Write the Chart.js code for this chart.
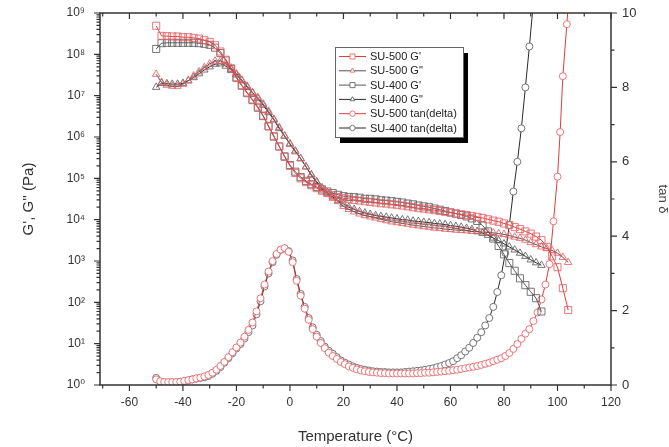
<!DOCTYPE html>
<html><head><meta charset="utf-8">
<script src="https://cdn.jsdelivr.net/npm/chart.js@4"></script>
<style>html,body{margin:0;padding:0;background:#fff}</style>
</head><body>
<canvas id="c" width="669" height="447"></canvas>
<script>
// ---------- data ----------
const tempG500 = [-50,-48,-46,-44,-42,-40,-38,-36,-34,-32,-30,-28,-26,-24,-22,-20,-18,-16,-14,-12,-10,-8,-6,-4,-2,0,2,4,6,8,10,12,14,16,18,20,22,24,26,28,30,32,34,36,38,40,42,44,46,48,50,52,54,56,58,60,62,64,66,68,70,72,74,76,78,80,82,84,86,88,90,92,94,96,98,100,102,104];
const su500Gp = [4.9e8,2.8e8,2.75e8,2.7e8,2.7e8,2.6e8,2.6e8,2.5e8,2.4e8,2.2e8,2.0e8,1.66e8,1.17e8,7.4e7,4.6e7,2.8e7,1.8e7,1.2e7,8.1e6,5.4e6,3.3e6,1.86e6,1.05e6,5.9e5,3.3e5,2.0e5,1.35e5,1.0e5,8.1e4,6.8e4,5.8e4,5.0e4,4.4e4,3.9e4,3.5e4,3.3e4,3.2e4,3.0e4,2.9e4,2.8e4,2.7e4,2.6e4,2.5e4,2.45e4,2.35e4,2.3e4,2.2e4,2.1e4,2.0e4,1.9e4,1.86e4,1.78e4,1.7e4,1.62e4,1.55e4,1.48e4,1.41e4,1.35e4,1.29e4,1.23e4,1.17e4,1.1e4,1.02e4,9.5e3,8.9e3,8.1e3,7.4e3,6.6e3,5.9e3,5.2e3,4.6e3,3.9e3,3.2e3,2.2e3,1.3e3,710,220,65];
const su500Gpp = [3.3e7,2.1e7,1.8e7,1.7e7,1.7e7,1.9e7,2.3e7,3.0e7,3.8e7,4.8e7,5.9e7,6.9e7,6.9e7,6.0e7,4.7e7,3.4e7,2.4e7,1.7e7,1.2e7,9.1e6,6.3e6,4.2e6,2.7e6,1.7e6,1.07e6,6.6e5,4.4e5,3.0e5,1.9e5,1.17e5,7.8e4,5.5e4,4.2e4,3.3e4,2.75e4,2.1e4,1.78e4,1.55e4,1.38e4,1.26e4,1.17e4,1.1e4,1.02e4,9.5e3,8.9e3,8.5e3,8.1e3,7.8e3,7.4e3,7.1e3,6.8e3,6.6e3,6.3e3,6.2e3,5.9e3,5.8e3,5.6e3,5.5e3,5.4e3,5.2e3,5.1e3,5.0e3,4.9e3,4.8e3,4.6e3,4.4e3,4.1e3,3.8e3,3.55e3,3.2e3,2.8e3,2.5e3,2.2e3,2.0e3,1.8e3,1.55e3,1.23e3,930];

const tempG400 = [-50,-48,-46,-44,-42,-40,-38,-36,-34,-32,-30,-28,-26,-24,-22,-20,-18,-16,-14,-12,-10,-8,-6,-4,-2,0,2,4,6,8,10,12,14,16,18,20,22,24,26,28,30,32,34,36,38,40,42,44,46,48,50,52,54,56,58,60,62,64,66,68,70,72,74,76,78,80,82,84,86,88,90,92,94];
const su400Gp = [1.35e8,1.86e8,1.9e8,1.9e8,1.9e8,1.9e8,1.9e8,1.9e8,1.86e8,1.8e8,1.7e8,1.45e8,1.07e8,7.1e7,4.4e7,2.7e7,1.74e7,1.15e7,7.8e6,5.1e6,3.2e6,1.8e6,1.02e6,5.9e5,3.4e5,2.1e5,1.45e5,1.07e5,8.7e4,7.2e4,6.2e4,5.4e4,4.8e4,4.4e4,4.0e4,3.7e4,3.55e4,3.5e4,3.4e4,3.2e4,3.2e4,3.1e4,2.95e4,2.9e4,2.8e4,2.7e4,2.6e4,2.45e4,2.35e4,2.2e4,2.1e4,2.0e4,1.86e4,1.74e4,1.62e4,1.5e4,1.4e4,1.3e4,1.2e4,1.07e4,9.3e3,7.2e3,5.2e3,3.5e3,2.3e3,1.45e3,890,580,380,260,180,126,60];
const su400Gpp = [1.6e7,2.0e7,1.95e7,1.9e7,1.9e7,2.0e7,2.3e7,2.75e7,3.4e7,4.2e7,5.0e7,5.8e7,5.9e7,5.2e7,4.3e7,3.2e7,2.3e7,1.6e7,1.17e7,8.5e6,5.9e6,3.9e6,2.6e6,1.6e6,1.05e6,6.9e5,4.6e5,3.0e5,1.9e5,1.23e5,8.3e4,5.9e4,4.5e4,3.55e4,2.9e4,2.4e4,2.0e4,1.78e4,1.58e4,1.45e4,1.35e4,1.26e4,1.2e4,1.15e4,1.1e4,1.05e4,1.0e4,9.8e3,9.3e3,9.1e3,8.7e3,8.5e3,8.1e3,7.9e3,7.6e3,7.2e3,6.9e3,6.6e3,6.2e3,5.8e3,5.2e3,4.7e3,4.2e3,3.6e3,3.1e3,2.6e3,2.2e3,1.86e3,1.55e3,1.3e3,1.07e3,910,790];

const tempTan400 = [-50,-48.5,-47,-45.5,-44,-42.5,-41,-39.5,-38,-36.5,-35,-33.5,-32,-30.5,-29,-27.5,-26,-24.5,-23,-21.5,-20,-18.5,-17,-15.5,-14,-12.5,-11,-9.5,-8,-6.5,-5,-3.5,-2,-0.5,1,2.5,4,5.5,7,8.5,10,11.5,13,14.5,16,17.5,19,20.5,22,23.5,25,26.5,28,29.5,31,32.5,34,35.5,37,38.5,40,41.5,43,44.5,46,47.5,49,50.5,52,53.5,55,56.5,58,59.5,61,62.5,64,65.5,67,68.5,70,71.5,73,74.5,76,77.5,79,80.5,82,83.5,85,86.5,88,89.5,91,92.5];
const su400Tan = [0.19,0.09,0.07,0.07,0.07,0.07,0.08,0.10,0.12,0.15,0.17,0.19,0.21,0.24,0.30,0.38,0.48,0.60,0.72,0.85,0.98,1.10,1.25,1.42,1.60,1.90,2.25,2.65,3.00,3.30,3.50,3.63,3.67,3.60,3.35,2.85,2.45,2.10,1.80,1.55,1.35,1.18,1.03,0.92,0.84,0.75,0.66,0.60,0.55,0.50,0.46,0.43,0.41,0.39,0.37,0.36,0.35,0.35,0.34,0.34,0.34,0.34,0.35,0.36,0.37,0.38,0.39,0.41,0.43,0.45,0.48,0.51,0.55,0.59,0.64,0.72,0.80,0.90,1.00,1.13,1.27,1.42,1.60,1.80,2.10,2.50,2.95,3.55,4.30,5.20,6.00,6.90,8.00,9.10,10.3,11.6];

const tempTan500 = [-50,-48.5,-47,-45.5,-44,-42.5,-41,-39.5,-38,-36.5,-35,-33.5,-32,-30.5,-29,-27.5,-26,-24.5,-23,-21.5,-20,-18.5,-17,-15.5,-14,-12.5,-11,-9.5,-8,-6.5,-5,-3.5,-2,-0.5,1,2.5,4,5.5,7,8.5,10,11.5,13,14.5,16,17.5,19,20.5,22,23.5,25,26.5,28,29.5,31,32.5,34,35.5,37,38.5,40,41.5,43,44.5,46,47.5,49,50.5,52,53.5,55,56.5,58,59.5,61,62.5,64,65.5,67,68.5,70,71.5,73,74.5,76,77.5,79,80.5,82,83.5,85,86.5,88,89.5,91,92.5,94,95.5,97,98.5,100,101,102,103.5,105];
const su500Tan = [0.15,0.10,0.08,0.08,0.08,0.08,0.09,0.11,0.13,0.15,0.18,0.20,0.23,0.27,0.33,0.41,0.51,0.62,0.75,0.88,1.01,1.14,1.30,1.48,1.68,1.98,2.33,2.70,3.05,3.33,3.52,3.64,3.68,3.58,3.30,2.80,2.40,2.05,1.75,1.50,1.30,1.13,0.99,0.87,0.78,0.70,0.62,0.56,0.50,0.46,0.42,0.39,0.37,0.35,0.34,0.33,0.32,0.32,0.31,0.31,0.31,0.31,0.31,0.31,0.31,0.32,0.32,0.33,0.33,0.34,0.35,0.36,0.37,0.38,0.40,0.41,0.43,0.45,0.47,0.49,0.51,0.54,0.57,0.60,0.64,0.68,0.72,0.78,0.86,0.97,1.10,1.24,1.38,1.50,1.72,1.95,2.30,2.70,3.25,4.40,5.60,6.80,8.30,9.70,11.2];

const seriesLabels = ["SU-500 G'", 'SU-500 G"', "SU-400 G'", 'SU-400 G"', 'SU-500 tan(delta)', 'SU-400 tan(delta)'];
const xTicks = [-60,-40,-20,0,20,40,60,80,100,120];
const xMinorTicks = [-70,-50,-30,-10,10,30,50,70,90,110];
const yTicks = [1,10,100,1e3,1e4,1e5,1e6,1e7,1e8,1e9];
const y2Ticks = [0,2,4,6,8,10];
const y2MinorTicks = [1,3,5,7,9];

// ---------- helpers ----------
const pts = (xs, ys) => ys.map((v, i) => ({x: xs[i], y: v}));
const RED = '#e23b3b', REDM = 'rgba(232,95,100,0.85)', DARK = '#2a2a2a', GREYM = 'rgba(95,95,95,0.85)';
const FONT = "'Liberation Sans', Arial, 'DejaVu Sans', sans-serif";
const sup = ['\u2070','\u00b9','\u00b2','\u00b3','\u2074','\u2075','\u2076','\u2077','\u2078','\u2079'];

function ds(label, data, axis, line, mark, style, r, fill) {
  return {label, data, yAxisID: axis, showLine: true, borderColor: line, borderWidth: 1,
    pointStyle: style, pointRadius: r, pointBorderColor: mark, pointBorderWidth: 1,
    pointBackgroundColor: fill, backgroundColor: fill, tension: 0};
}
const noEdgePad = s => { s.paddingTop = 0; s.paddingBottom = 0; s.paddingLeft = 0; s.paddingRight = 0; };

const framePlugin = {
  id: 'frameTicks',
  afterDraw(chart) {
    const {ctx, chartArea: a} = chart;
    const {x, y, y2} = chart.scales;
    ctx.save();
    ctx.strokeStyle = '#333';
    ctx.lineWidth = 1.5;
    ctx.strokeRect(a.left, a.top, a.right - a.left, a.bottom - a.top);
    ctx.lineWidth = 1.2;
    ctx.beginPath();
    const M = 6, m = 3.5;
    xTicks.forEach(v => { const p = x.getPixelForValue(v);
      ctx.moveTo(p, a.bottom); ctx.lineTo(p, a.bottom + M);
      ctx.moveTo(p, a.top); ctx.lineTo(p, a.top + M); });
    xMinorTicks.forEach(v => { const p = x.getPixelForValue(v);
      ctx.moveTo(p, a.bottom); ctx.lineTo(p, a.bottom + m);
      ctx.moveTo(p, a.top); ctx.lineTo(p, a.top + m); });
    yTicks.forEach(v => { const p = y.getPixelForValue(v);
      ctx.moveTo(a.left - M, p); ctx.lineTo(a.left, p); });
    for (let d = 0; d < 9; d++) for (let k = 2; k <= 9; k++) {
      const p = y.getPixelForValue(k * Math.pow(10, d));
      ctx.moveTo(a.left - m, p); ctx.lineTo(a.left, p);
    }
    y2Ticks.forEach(v => { const p = y2.getPixelForValue(v);
      ctx.moveTo(a.right, p); ctx.lineTo(a.right + M, p); });
    y2MinorTicks.forEach(v => { const p = y2.getPixelForValue(v);
      ctx.moveTo(a.right, p); ctx.lineTo(a.right + m, p); });
    ctx.stroke();
    ctx.restore();
  }
};

const legendPlugin = {
  id: 'boxLegend',
  afterDraw(chart) {
    const ctx = chart.ctx;
    const L = 335, T = 47, W = 128, H = 90;
    ctx.save();
    ctx.fillStyle = '#000';
    ctx.fillRect(L + 5, T + 6, W, H);
    ctx.fillStyle = '#fff';
    ctx.fillRect(L, T, W, H);
    ctx.strokeStyle = '#666';
    ctx.lineWidth = 1;
    ctx.strokeRect(L + 0.5, T + 0.5, W, H);
    ctx.font = '11px ' + FONT;
    ctx.textBaseline = 'middle';
    chart.data.datasets.forEach((d, i) => {
      const yy = T + 9.5 + i * 14.3;
      ctx.strokeStyle = d.borderColor; ctx.lineWidth = 1;
      ctx.beginPath(); ctx.moveTo(L + 4, yy); ctx.lineTo(L + 31, yy); ctx.stroke();
      ctx.fillStyle = '#fff'; ctx.strokeStyle = d.pointBorderColor;
      Chart.helpers.drawPoint(ctx, {pointStyle: d.pointStyle, radius: d.pointStyle === 'rect' ? 3.6 : 2.7, borderWidth: 1, rotation: 0}, L + 17.5, yy);
      ctx.fillStyle = '#222';
      ctx.fillText(d.label, L + 35, yy + 0.5);
    });
    ctx.restore();
  }
};

new Chart(document.getElementById('c'), {
  type: 'scatter',
  data: {
    datasets: [
      ds(seriesLabels[0], pts(tempG500, su500Gp), 'y', RED, REDM, 'rect', 5, 'rgba(0,0,0,0)'),
      ds(seriesLabels[1], pts(tempG500, su500Gpp), 'y', '#555', REDM, 'triangle', 4.3, 'rgba(0,0,0,0)'),
      ds(seriesLabels[2], pts(tempG400, su400Gp), 'y', '#555', GREYM, 'rect', 5, 'rgba(0,0,0,0)'),
      ds(seriesLabels[3], pts(tempG400, su400Gpp), 'y', DARK, GREYM, 'triangle', 4.3, 'rgba(0,0,0,0)'),
      ds(seriesLabels[4], pts(tempTan500, su500Tan), 'y2', RED, REDM, 'circle', 3.5, '#fff'),
      ds(seriesLabels[5], pts(tempTan400, su400Tan), 'y2', DARK, GREYM, 'circle', 3.5, '#fff')
    ]
  },
  options: {
    responsive: false,
    animation: false,
    layout: {padding: {top: 13, left: 0, right: 0, bottom: 0}},
    plugins: {legend: {display: false}, tooltip: {enabled: false}},
    scales: {
      x: {
        type: 'linear', position: 'bottom', min: -71, max: 120,
        grid: {display: false, drawTicks: false}, border: {display: false},
        afterBuildTicks: s => { s.ticks = xTicks.map(v => ({value: v})); },
        afterFit: s => { s.height = 62; noEdgePad(s); },
        ticks: {padding: 10, color: '#333', font: {family: FONT, size: 12}, maxRotation: 0, autoSkip: false},
        title: {display: true, text: 'Temperature (\u00b0C)', color: '#333', font: {family: FONT, size: 15}, padding: {top: 0, bottom: 1}}
      },
      y: {
        type: 'logarithmic', position: 'left', min: 1, max: 1e9,
        grid: {display: false, drawTicks: false}, border: {display: false},
        afterBuildTicks: s => { s.ticks = yTicks.map(v => ({value: v})); },
        afterFit: s => { s.width = 100; noEdgePad(s); },
        ticks: {padding: 15, color: '#333', font: {family: FONT, size: 12}, autoSkip: false,
          callback: v => '10' + sup[Math.round(Math.log10(v))]},
        title: {display: true, text: "G', G'' (Pa)", color: '#333', font: {family: FONT, size: 15}, padding: {top: 20, bottom: 0}}
      },
      y2: {
        type: 'linear', position: 'right', min: 0, max: 10,
        grid: {display: false, drawTicks: false}, border: {display: false},
        afterBuildTicks: s => { s.ticks = y2Ticks.map(v => ({value: v})); },
        afterFit: s => { s.width = 58; noEdgePad(s); },
        ticks: {padding: 11, color: '#333', font: {family: FONT, size: 13}, autoSkip: false},
        title: {display: true, text: 'tan \u03b4', color: '#444', font: {family: FONT, size: 13, lineHeight: 1}, padding: {top: 0, bottom: 0}}
      }
    }
  },
  plugins: [framePlugin, legendPlugin]
});
</script>
</body></html>
